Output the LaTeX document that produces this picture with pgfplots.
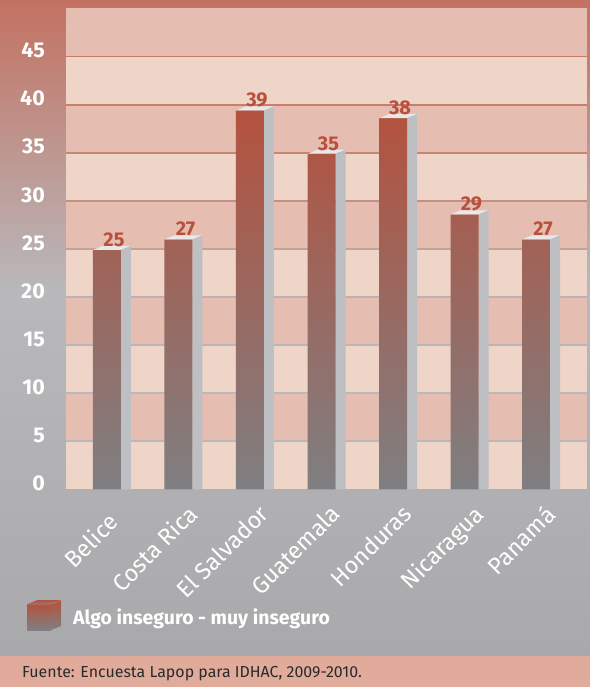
\documentclass[border=0pt]{standalone}
\usepackage{pgfplots}
\pgfplotsset{compat=1.18}
\usepackage{pgfplotstable}
\usepackage{fontspec}
\setmainfont{Fira Sans}
\definecolor{bgred}{HTML}{C37262}
\definecolor{bggreyA}{HTML}{B9B8BB}
\definecolor{bggreyB}{HTML}{A9A9AC}
\definecolor{footer}{HTML}{E0AB9B}
\definecolor{footertext}{HTML}{2A2A2A}
\definecolor{bandD}{HTML}{E5BEB1}
\definecolor{bandL}{HTML}{EFD4C8}
\definecolor{barred}{HTML}{B4523E}
\definecolor{bargrey}{HTML}{7F7F82}
\definecolor{sideface}{HTML}{BEBFC2}
\definecolor{topface}{HTML}{E9E7E7}
\definecolor{labelred}{HTML}{B9503C}
\definecolor{g45}{HTML}{C87A6B}
\definecolor{g40}{HTML}{C87E6F}
\definecolor{g35}{HTML}{C68676}
\definecolor{g30}{HTML}{C49082}
\definecolor{g25}{HTML}{C2A29A}
\definecolor{g20}{HTML}{BDB2B0}
\definecolor{g15}{HTML}{BAB6B7}
\definecolor{g10}{HTML}{B9B8BA}
\definecolor{g5}{HTML}{B9B9BC}

\pgfplotstableread{
x y lab
0 24.9 25
1 26.0 27
2 39.4 39
3 34.9 35
4 38.6 38
5 28.6 29
6 26.0 27
}\datatable

\pgfdeclareplotmark{barcap}{%
  \pgfsetfillcolor{topface}%
  \pgfpathmoveto{\pgfpoint{-14bp}{0bp}}%
  \pgfpathlineto{\pgfpoint{14bp}{0bp}}%
  \pgfpathlineto{\pgfpoint{24bp}{4bp}}%
  \pgfpathlineto{\pgfpoint{-4bp}{4bp}}%
  \pgfpathclose
  \pgfusepath{fill}%
  \pgfsetfillcolor{sideface}%
  \pgfpathmoveto{\pgfpoint{14bp}{0bp}}%
  \pgfpathlineto{\pgfpoint{24bp}{4bp}}%
  \pgfpathlineto{\pgfpoint{24bp}{0bp}}%
  \pgfpathclose
  \pgfusepath{fill}%
}

\begin{document}
\begin{tikzpicture}[x=1bp,y=1bp]
\useasboundingbox (0,0) rectangle (590,687);
\shade[top color=bgred, bottom color=bggreyA] (0,396) rectangle (590,687);
\shade[top color=bggreyA, bottom color=bggreyB] (0,30) rectangle (590,396.5);
\fill[footer] (0,0) rectangle (590,30.5);
\node[anchor=base west, inner sep=0pt, font=\fontsize{16}{18}\selectfont, text=footertext] at (22,9) {Fuente: Encuesta Lapop para IDHAC, 2009-2010.};
\begin{axis}[
  at={(66bp,197.5bp)}, anchor=south west,
  scale only axis, width=521bp, height=481bp,
  xmin=-0.573, xmax=6.713, ymin=0, ymax=50,
  clip=false,
  /pgf/number format/assume math mode=true,
  axis line style={draw=none}, tick style={draw=none}, major tick length=0pt,
  ytick={0,5,...,45},
  yticklabel style={font=\bfseries\fontsize{21.5}{22}\selectfont, text=white, anchor=east, inner sep=0pt, xshift=-21bp, yshift=6bp},
  xtick={1,...,6},
  xticklabels={Costa Rica,El Salvador,Guatemala,Honduras,Nicaragua,Panam\'{a}},
  xticklabel style={font=\fontsize{23.5}{24}\selectfont, text=white, rotate=45, anchor=north east, inner sep=0pt, xshift=-4bp, yshift=-15bp},
  extra x ticks={0},
  extra x tick labels={Belice},
  extra x tick style={tick style={draw=none}, xticklabel style={xshift=-11bp}},
  legend style={at={(rel axis cs:-0.0749,-0.261)}, anchor=west, draw=none, fill=none, inner sep=0pt,
    font=\bfseries\fontsize{19.5}{22}\selectfont, text=white, column sep=12bp,
    nodes={inner sep=0pt}},
  legend cell align=left,
]
\fill[bandL] (rel axis cs:0,0.0) rectangle (rel axis cs:1,0.1);
\fill[bandD] (rel axis cs:0,0.1) rectangle (rel axis cs:1,0.2);
\fill[bandL] (rel axis cs:0,0.2) rectangle (rel axis cs:1,0.3);
\fill[bandD] (rel axis cs:0,0.3) rectangle (rel axis cs:1,0.4);
\fill[bandL] (rel axis cs:0,0.4) rectangle (rel axis cs:1,0.5);
\fill[bandD] (rel axis cs:0,0.5) rectangle (rel axis cs:1,0.6);
\fill[bandL] (rel axis cs:0,0.6) rectangle (rel axis cs:1,0.7);
\fill[bandD] (rel axis cs:0,0.7) rectangle (rel axis cs:1,0.8);
\fill[bandL] (rel axis cs:0,0.8) rectangle (rel axis cs:1,0.9);
\fill[bandD] (rel axis cs:0,0.9) rectangle (rel axis cs:1,1.0);
\draw[g5,  line width=1.8bp] (rel axis cs:0,0.1) -- (rel axis cs:1,0.1);
\draw[g10, line width=1.8bp] (rel axis cs:0,0.2) -- (rel axis cs:1,0.2);
\draw[g15, line width=1.8bp] (rel axis cs:0,0.3) -- (rel axis cs:1,0.3);
\draw[g20, line width=1.8bp] (rel axis cs:0,0.4) -- (rel axis cs:1,0.4);
\draw[g25, line width=1.8bp] (rel axis cs:0,0.5) -- (rel axis cs:1,0.5);
\draw[g30, line width=1.8bp] (rel axis cs:0,0.6) -- (rel axis cs:1,0.6);
\draw[g35, line width=1.8bp] (rel axis cs:0,0.7) -- (rel axis cs:1,0.7);
\draw[g40, line width=1.8bp] (rel axis cs:0,0.8) -- (rel axis cs:1,0.8);
\draw[g45, line width=1.8bp] (rel axis cs:0,0.9) -- (rel axis cs:1,0.9);

% side faces
\addplot[ybar, bar width=10bp, bar shift=19bp, draw=none, fill=sideface, forget plot]
  table[x=x, y=y] {\datatable};
% front faces
\addplot[ybar, bar width=28bp, bar shift=0bp, draw=none, top color=barred, bottom color=bargrey,
  legend image code/.code={
    \shade[top color=barred, bottom color=bargrey] (0bp,-13bp) rectangle (24bp,13bp);
    \fill[sideface] (24bp,-13bp) -- (34bp,-9bp) -- (34bp,17bp) -- (24bp,13bp) -- cycle;
    \fill[topface] (0bp,13bp) -- (24bp,13bp) -- (34bp,17bp) -- (10bp,17bp) -- cycle;
  }]
  table[x=x, y=y] {\datatable};
\addlegendentry{Algo inseguro - muy inseguro}
% top caps and value labels
\addplot[only marks, mark=barcap, forget plot,
  point meta=explicit symbolic,
  nodes near coords,
  nodes near coords style={font=\bfseries\fontsize{20}{20}\selectfont, text=labelred, anchor=south, inner sep=0pt, xshift=7bp, yshift=3bp}]
  table[x=x, y=y, meta=lab] {\datatable};
\end{axis}
\end{tikzpicture}
\end{document}
